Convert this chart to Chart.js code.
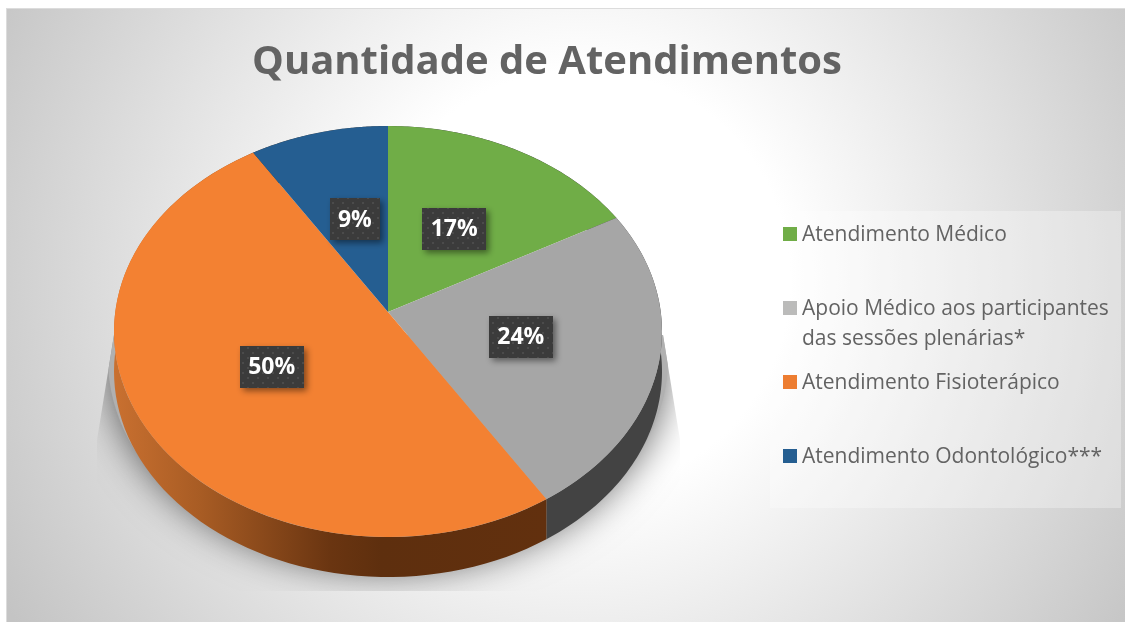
<!DOCTYPE html>
<html>
<head>
<meta charset="utf-8">
<style>
  html, body { margin: 0; padding: 0; background: #fff; overflow: hidden; }
  canvas { display: block; }
</style>
<script src="https://cdn.jsdelivr.net/npm/chart.js@4/dist/chart.umd.min.js"></script>
</head>
<body>
<canvas id="pie-chart" width="1125" height="622"></canvas>
<script>
// chart data
const chartTitle = 'Quantidade de Atendimentos';
const categories = [
  ['Atendimento Médico'],
  ['Apoio Médico aos participantes', 'das sessões plenárias*'],
  ['Atendimento Fisioterápico'],
  ['Atendimento Odontológico***']
];
const values = [17, 24, 50, 9];
const sliceColors = ['#70AD47', '#A6A6A6', '#F38132', '#255E91'];
const legendColors = ['#70AD47', '#BBBBBA', '#ED7D31', '#255E91'];
const legendRows = [227, 301, 375, 449]; // top of each swatch
const labelNudges = [[-1.5, 2.5], [4, 0], [-4, 1.5], [4, 3]];

// pie geometry: the picture is a tilted disc, so slices leave from the apex
// and the rim is an ellipse whose centre sits a little lower
const apex = { x: 388, y: 312 };
const rim = { x: 388, y: 331.5, rx: 274, ry: 205.5 };
const tilt = 0.75;
const depth = 40;
const labelRadius = 133;

function rimPoint(angle) {
  // ray from apex to the rim ellipse
  const dx = Math.cos(angle), dy = tilt * Math.sin(angle);
  const ox = (apex.x - rim.x) / rim.rx, oy = (apex.y - rim.y) / rim.ry;
  const ax = dx / rim.rx, ay = dy / rim.ry;
  const a = ax * ax + ay * ay, b = 2 * (ox * ax + oy * ay), c = ox * ox + oy * oy - 1;
  const t = (-b + Math.sqrt(b * b - 4 * a * c)) / (2 * a);
  return { x: apex.x + dx * t, y: apex.y + dy * t };
}

function ellipsePath(ctx, dy) {
  ctx.beginPath();
  ctx.ellipse(rim.x, rim.y + dy, rim.rx, rim.ry, 0, 0, Math.PI * 2);
}

const background = {
  id: 'background',
  beforeDraw(chart) {
    const ctx = chart.ctx;
    ctx.save();
    const g = ctx.createRadialGradient(580, 280, 210, 580, 280, 660);
    g.addColorStop(0, '#ffffff');
    g.addColorStop(1, '#c4c4c4');
    ctx.fillStyle = g;
    ctx.fillRect(6, 8, 1119, 614);
    ctx.fillStyle = '#dcdcdc';
    ctx.fillRect(6, 8, 1119, 1);
    ctx.fillRect(6, 8, 1, 614);
    ctx.restore();
  }
};

const tiltedDisc = {
  id: 'tiltedDisc',
  beforeDatasetsDraw(chart) {
    const ctx = chart.ctx;
    const arcs = chart.getDatasetMeta(0).data;

    // soft shadow under the disc, cut off by its square box
    ctx.save();
    ctx.beginPath();
    ctx.moveTo(114, 335);
    ctx.lineTo(97, 440);
    ctx.lineTo(97, 591);
    ctx.lineTo(680, 591);
    ctx.lineTo(680, 440);
    ctx.lineTo(663, 335);
    ctx.closePath();
    ctx.clip();
    ctx.shadowColor = 'rgba(0,0,0,0.6)';
    ctx.shadowBlur = 38;
    ctx.fillStyle = '#b0b0b0';
    ctx.beginPath();
    ctx.ellipse(rim.x, rim.y + 28, rim.rx + 6, rim.ry + 6, 0, 0, Math.PI * 2);
    ctx.fill();
    ctx.restore();

    // side wall of every slice
    arcs.forEach((arc, i) => {
      const steps = 80;
      ctx.save();
      ctx.beginPath();
      const pts = [];
      for (let s = 0; s <= steps; s++) {
        pts.push(rimPoint(arc.startAngle + (arc.endAngle - arc.startAngle) * s / steps));
      }
      pts.forEach((p, k) => k ? ctx.lineTo(p.x, p.y) : ctx.moveTo(p.x, p.y));
      pts.slice().reverse().forEach(p => ctx.lineTo(p.x, p.y + depth));
      ctx.closePath();
      if (i === 2) {
        const g = ctx.createLinearGradient(114, 0, 546, 0);
        g.addColorStop(0, '#C97030');
        g.addColorStop(0.2, '#A85C24');
        g.addColorStop(0.5, '#6A3511');
        g.addColorStop(0.62, '#5E2F0E');
        g.addColorStop(1, '#62300E');
        ctx.fillStyle = g;
      } else {
        ctx.fillStyle = '#434343';
      }
      ctx.fill();
      ctx.restore();
    });

    // top face: library arcs squashed and clipped by the rim
    const cx = arcs[0].x, cy = arcs[0].y;
    ctx.save();
    ellipsePath(ctx, 0);
    ctx.clip();
    ctx.translate(apex.x, apex.y);
    ctx.scale(1, tilt);
    ctx.translate(-cx, -cy);
  },
  afterDatasetsDraw(chart) {
    const ctx = chart.ctx;
    ctx.restore();

    const arcs = chart.getDatasetMeta(0).data;
    arcs.forEach((arc, i) => {
      const mid = (arc.startAngle + arc.endAngle) / 2;
      drawValueLabel(ctx, apex.x + Math.cos(mid) * labelRadius + labelNudges[i][0],
        apex.y + Math.sin(mid) * labelRadius * tilt + labelNudges[i][1], values[i] + '%');
    });
  },
  afterDraw(chart) {
    drawLegend(chart.ctx);
  }
};

let dotPattern = null;
function getDotPattern(ctx) {
  if (dotPattern) return dotPattern;
  const c = document.createElement('canvas');
  c.width = 10; c.height = 10;
  const p = c.getContext('2d');
  p.fillStyle = '#3B3B3B';
  p.fillRect(0, 0, 10, 10);
  p.fillStyle = '#4B4B4B';
  p.fillRect(2, 2, 2, 2);
  p.fillRect(7, 7, 2, 2);
  dotPattern = ctx.createPattern(c, 'repeat');
  return dotPattern;
}

function drawValueLabel(ctx, x, y, text) {
  ctx.save();
  ctx.font = 'bold 23px "Open Sans"';
  const w = text.length > 2 ? 64 : 50;
  const h = 42;
  ctx.shadowColor = 'rgba(0,0,0,0.45)';
  ctx.shadowBlur = 6;
  ctx.shadowOffsetX = 3;
  ctx.shadowOffsetY = 3;
  ctx.fillStyle = getDotPattern(ctx);
  ctx.fillRect(Math.round(x - w / 2), Math.round(y - h / 2), w, h);
  ctx.shadowColor = 'transparent';
  ctx.fillStyle = '#ffffff';
  ctx.textAlign = 'center';
  ctx.textBaseline = 'middle';
  ctx.fillText(text, x, y + 1);
  ctx.restore();
}

function drawLegend(ctx) {
  ctx.save();
  ctx.fillStyle = 'rgba(255,255,255,0.3)';
  ctx.fillRect(770, 211, 351, 297);
  ctx.font = '21px "Open Sans"';
  ctx.textBaseline = 'middle';
  categories.forEach((lines, i) => {
    ctx.fillStyle = legendColors[i];
    ctx.fillRect(783, legendRows[i], 14, 14);
    ctx.fillStyle = '#636363';
    lines.forEach((line, k) => {
      ctx.fillText(line, 802, legendRows[i] + 8 + k * 30);
    });
  });
  ctx.restore();
}

const ctx = document.getElementById('pie-chart').getContext('2d');
new Chart(ctx, {
  type: 'pie',
  data: {
    labels: categories.map(c => c.join(' ')),
    datasets: [{
      data: values,
      backgroundColor: sliceColors,
      borderWidth: 0,
      clip: false
    }]
  },
  options: {
    responsive: false,
    animation: false,
    radius: 340,
    layout: { padding: { top: 39, right: 31 } },
    plugins: {
      legend: { display: false },
      tooltip: { enabled: false },
      title: {
        display: true,
        text: chartTitle,
        color: '#636363',
        font: { family: '"Open Sans"', size: 40, weight: 'bold' },
        padding: { top: 0, bottom: 0 }
      }
    }
  },
  plugins: [background, tiltedDisc]
});
</script>
</body>
</html>
